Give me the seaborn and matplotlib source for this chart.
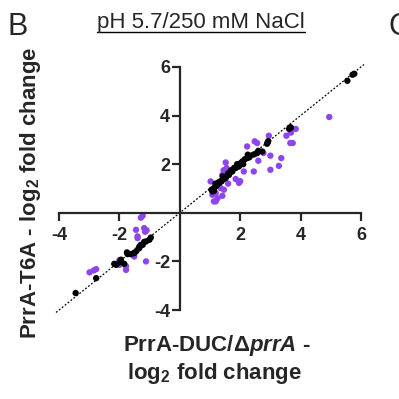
import pandas as pd
import numpy as np
import matplotlib
matplotlib.use("Agg")
import matplotlib.pyplot as plt
import seaborn as sns
from matplotlib.lines import Line2D

# log2 fold changes
black_x = [5.78, 5.72, 5.55, 3.66, 3.62, 3.68,
           2.93, 2.89, 2.91, 2.73, 2.56, 2.54, 2.34, 2.25, 2.23, 2.15, 2.07, 1.99,
           2.02, 1.95, 1.85, 1.80, 1.74, 1.70, 1.63, 1.60, 1.55, 1.52, 1.48, 1.45,
           1.38, 1.35, 1.30, 1.24, 1.20, 1.13, 1.10, 1.08, 1.13, 1.05, 2.45, 2.60,
           1.90, 1.65, 1.42, 1.28, 1.18, 2.10, 2.30, 1.95,
           -0.96, -1.01, -1.12, -1.18, -1.23, -1.29, -1.34, -1.34, -1.45, -1.51,
           -1.62, -1.73, -1.75, -1.84, -1.95, -2.00, -2.11, -2.17, -2.77, -3.45]
black_y = [5.72, 5.68, 5.43, 3.52, 3.45, 3.50,
           2.95, 2.84, 2.90, 2.52, 2.46, 2.45, 2.35, 2.39, 2.25, 2.20, 2.11, 1.98,
           2.05, 1.90, 1.84, 1.85, 1.70, 1.75, 1.56, 1.62, 1.50, 1.43, 1.45, 1.38,
           1.29, 1.30, 1.22, 1.15, 1.10, 1.02, 0.98, 0.88, 0.90, 0.95, 2.40, 2.55,
           2.00, 1.65, 1.50, 1.25, 1.20, 2.00, 2.28, 1.95,
           -1.02, -1.11, -1.18, -1.20, -1.32, -1.32, -1.39, -1.45, -1.59, -1.66,
           -1.70, -1.70, -1.63, -2.10, -1.93, -2.04, -2.14, -2.10, -2.69, -3.30]

purple_x = [4.95, 3.84, 3.68, 3.74, 3.66, 3.53, 2.95, 2.48, 2.56, 2.23, 2.77, 3.00,
            3.36, 3.28, 3.00, 2.45, 2.60, 2.12, 1.52, 1.55, 1.41, 1.85, 1.96, 1.02,
            1.35, 1.46, 1.19, 1.13, 1.19, 1.08, 1.41, 1.25, 2.00, 1.60, 1.45,
            -1.23, -1.29, -1.45, -1.18, -1.10, -1.15, -1.40, -1.40, -1.40, -1.51,
            -1.12, -2.00, -1.78, -1.78, -2.00, -2.99, -2.85, -2.77]
purple_y = [3.94, 3.45, 3.30, 2.87, 2.87, 3.17, 3.17, 2.94, 2.87, 2.73, 2.46, 2.35,
            2.25, 1.93, 1.77, 1.70, 2.14, 1.70, 2.07, 1.84, 1.56, 1.39, 1.23, 1.29,
            1.02, 0.95, 0.81, 0.47, 0.47, 0.74, 0.70, 0.60, 1.30, 1.20, 1.75,
            -0.12, -0.20, -0.70, -0.63, -0.72, -0.78, -0.97, -1.04, -1.52, -1.80,
            -2.00, -1.95, -2.20, -2.35, -2.14, -2.45, -2.37, -2.32]

ticks = [-4, -2, 2, 4, 6]

sns.set_style("ticks")
plt.rcParams["font.family"] = ["Liberation Sans", "DejaVu Sans"]
plt.rcParams["font.weight"] = "bold"
plt.rcParams["mathtext.fontset"] = "custom"
plt.rcParams["mathtext.rm"] = "Liberation Sans"
plt.rcParams["mathtext.bf"] = "Liberation Sans:bold"
plt.rcParams["mathtext.bfit"] = "Liberation Sans:italic:bold"

df = pd.concat([
    pd.DataFrame({"x": purple_x, "y": purple_y, "grp": "purple"}),
    pd.DataFrame({"x": black_x, "y": black_y, "grp": "black"}),
])

fig = plt.figure(figsize=(3.99, 3.99), dpi=100)
ax = fig.add_axes([0.1328, 0.2108, 0.787, 0.6336])

ax.plot([-4.1, 6.1], [-4.1, 6.1], color="black", lw=0.9, ls=(0, (1.5, 1.5)), zorder=1)
sns.scatterplot(data=df, x="x", y="y", hue="grp",
                palette={"purple": "#8d46ee", "black": "black"},
                s=21, linewidth=0, legend=False, ax=ax, zorder=2)

ax.set_xlim(-4.2, 6.2)
ax.set_ylim(-4.2, 6.2)
ax.set_xticks(ticks)
ax.set_yticks(ticks)
ax.set_xticklabels([str(t) for t in ticks])
ax.set_yticklabels([str(t) for t in ticks])
ax.spines["left"].set_position(("data", 0))
ax.spines["bottom"].set_position(("data", 0))
ax.spines["right"].set_visible(False)
ax.spines["top"].set_visible(False)
ax.spines["left"].set_bounds(-4, 6)
ax.spines["bottom"].set_bounds(-4, 6)
for s in ["left", "bottom"]:
    ax.spines[s].set_linewidth(1.6)
ax.tick_params(width=1.6, length=6, labelsize=13)
ax.tick_params(axis="x", pad=4)
ax.tick_params(axis="y", pad=1)
ax.set_xlabel("")
ax.set_ylabel("")

# labels
fig.text(31 / 399, 1 - 193 / 399, r"PrrA-T6A - log$_{\mathbf{2}}$ fold change",
         rotation=90, ha="center", va="center", fontsize=16, fontweight="bold")
fig.text(217 / 399, 1 - 345 / 399, r"PrrA-DUC/$\Delta\mathbfit{prrA}$ -",
         ha="center", va="center", fontsize=16, fontweight="bold")
fig.text(215 / 399, 1 - 373 / 399, r"log$_{\mathbf{2}}$ fold change",
         ha="center", va="center", fontsize=16, fontweight="bold")

title = fig.text(201 / 399, 1 - 28 / 399, "pH 5.7/250 mM NaCl",
                 ha="center", va="baseline", fontsize=16, fontweight="normal")
fig.text(8 / 399, 1 - 35 / 399, "B", fontsize=22, fontweight="normal", va="baseline")
# panel letter of the next panel, cut by the edge as in the source figure
fig.text(388 / 399, 1 - 35 / 399, "C", fontsize=22, fontweight="normal", va="baseline")

# underline the title
fig.canvas.draw()
bb = title.get_window_extent().transformed(fig.transFigure.inverted())
fig.add_artist(Line2D([bb.x0, bb.x1], [bb.y0 + 0.003, bb.y0 + 0.003],
                      color="black", lw=1.0, transform=fig.transFigure))

fig.savefig("out.png", dpi=100)
